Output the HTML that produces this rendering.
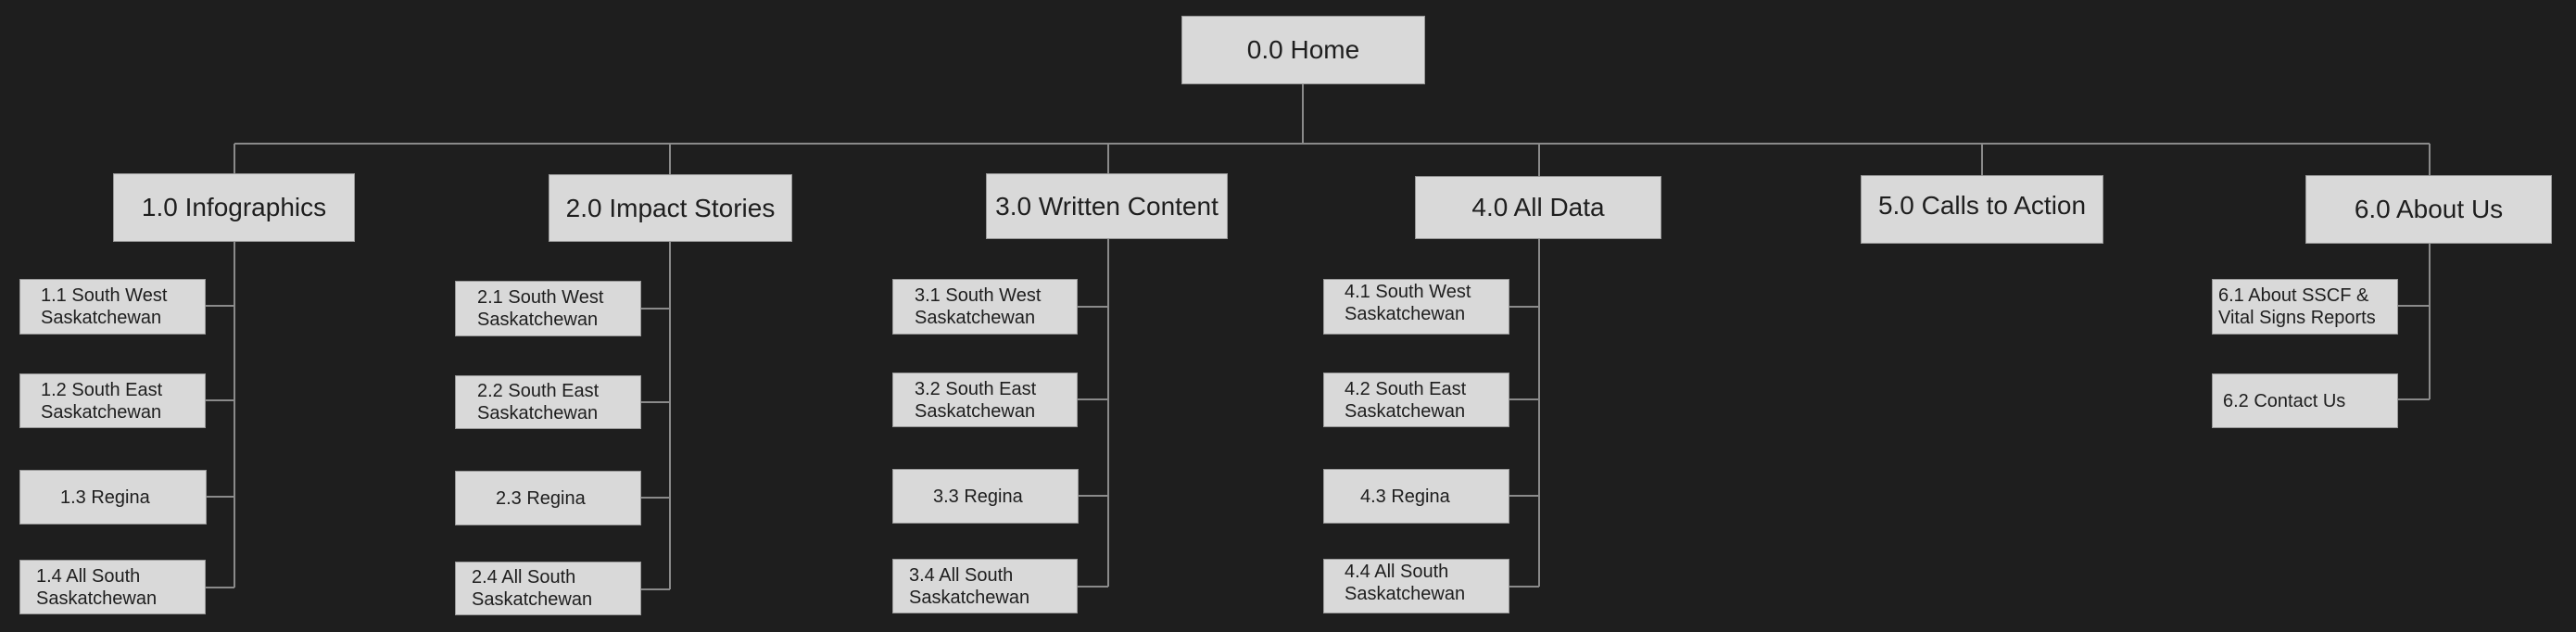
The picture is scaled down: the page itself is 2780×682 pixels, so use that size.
<!DOCTYPE html>
<html><head><meta charset="utf-8"><style>
html,body{margin:0;padding:0;background:#1e1e1e;}
body{width:2780px;height:682px;position:relative;overflow:hidden;font-family:"Liberation Sans",sans-serif;color:#1e1e1e;}
.b{position:absolute;background:#d9d9d9;border:1px solid #9a9a9a;box-sizing:border-box;display:flex;align-items:center;}
.m{justify-content:center;font-size:28px;}
.c{font-size:20px;line-height:24px;}
svg{position:absolute;left:0;top:0;}
</style></head><body>
<svg width="2780" height="682" stroke="#8a8a8a" stroke-width="2" fill="none">
<path d="M1406 91V155M253 155H2622M253 155V187M723 155V188M1196 155V187M1661 155V190M2139 155V189M2622 155V189"/>
<path d="M253 261V634M222 330H253M222 432H253M222 536H253M222 634H253"/>
<path d="M723 261V636M692 333H723M692 434H723M692 537H723M692 636H723"/>
<path d="M1196 258V633M1163 331H1196M1163 431H1196M1163 535H1196M1163 633H1196"/>
<path d="M1661 258V633M1629 331H1661M1629 431H1661M1629 535H1661M1629 633H1661"/>
<path d="M2622 263V431M2588 330H2622M2588 431H2622"/>
</svg>
<div class="b m" style="left:1275px;top:17px;width:263px;height:74px">0.0 Home</div>
<div class="b m" style="left:122px;top:187px;width:261px;height:74px">1.0 Infographics</div>
<div class="b m" style="left:592px;top:188px;width:263px;height:73px">2.0 Impact Stories</div>
<div class="b m" style="left:1064px;top:187px;width:261px;height:71px">3.0 Written Content</div>
<div class="b m" style="left:1527px;top:190px;width:266px;height:68px">4.0 All Data</div>
<div class="b m" style="left:2008px;top:189px;width:262px;height:74px;padding-bottom:8px">5.0 Calls to Action</div>
<div class="b m" style="left:2488px;top:189px;width:266px;height:74px">6.0 About Us</div>

<div class="b c" style="left:21px;top:301px;width:201px;height:60px;padding-left:22px">1.1 South West<br>Saskatchewan</div>
<div class="b c" style="left:21px;top:403px;width:201px;height:59px;padding-left:22px">1.2 South East<br>Saskatchewan</div>
<div class="b c" style="left:21px;top:507px;width:202px;height:59px;padding-left:43px">1.3 Regina</div>
<div class="b c" style="left:21px;top:604px;width:201px;height:59px;padding-left:17px">1.4 All South<br>Saskatchewan</div>

<div class="b c" style="left:491px;top:303px;width:201px;height:60px;padding-left:23px">2.1 South West<br>Saskatchewan</div>
<div class="b c" style="left:491px;top:405px;width:201px;height:58px;padding-left:23px">2.2 South East<br>Saskatchewan</div>
<div class="b c" style="left:491px;top:508px;width:201px;height:59px;padding-left:43px">2.3 Regina</div>
<div class="b c" style="left:491px;top:606px;width:201px;height:58px;padding-left:17px">2.4 All South<br>Saskatchewan</div>

<div class="b c" style="left:963px;top:301px;width:200px;height:60px;padding-left:23px">3.1 South West<br>Saskatchewan</div>
<div class="b c" style="left:963px;top:402px;width:200px;height:59px;padding-left:23px">3.2 South East<br>Saskatchewan</div>
<div class="b c" style="left:963px;top:506px;width:201px;height:59px;padding-left:43px">3.3 Regina</div>
<div class="b c" style="left:963px;top:603px;width:200px;height:59px;padding-left:17px">3.4 All South<br>Saskatchewan</div>

<div class="b c" style="left:1428px;top:301px;width:201px;height:60px;padding-left:22px;padding-bottom:8px">4.1 South West<br>Saskatchewan</div>
<div class="b c" style="left:1428px;top:402px;width:201px;height:59px;padding-left:22px">4.2 South East<br>Saskatchewan</div>
<div class="b c" style="left:1428px;top:506px;width:201px;height:59px;padding-left:39px">4.3 Regina</div>
<div class="b c" style="left:1428px;top:603px;width:201px;height:59px;padding-left:22px;padding-bottom:8px">4.4 All South<br>Saskatchewan</div>

<div class="b c" style="left:2387px;top:301px;width:201px;height:60px;padding-left:6px">6.1 About SSCF &amp;<br>Vital Signs Reports</div>
<div class="b c" style="left:2387px;top:403px;width:201px;height:59px;padding-left:11px">6.2 Contact Us</div>
</body></html>
